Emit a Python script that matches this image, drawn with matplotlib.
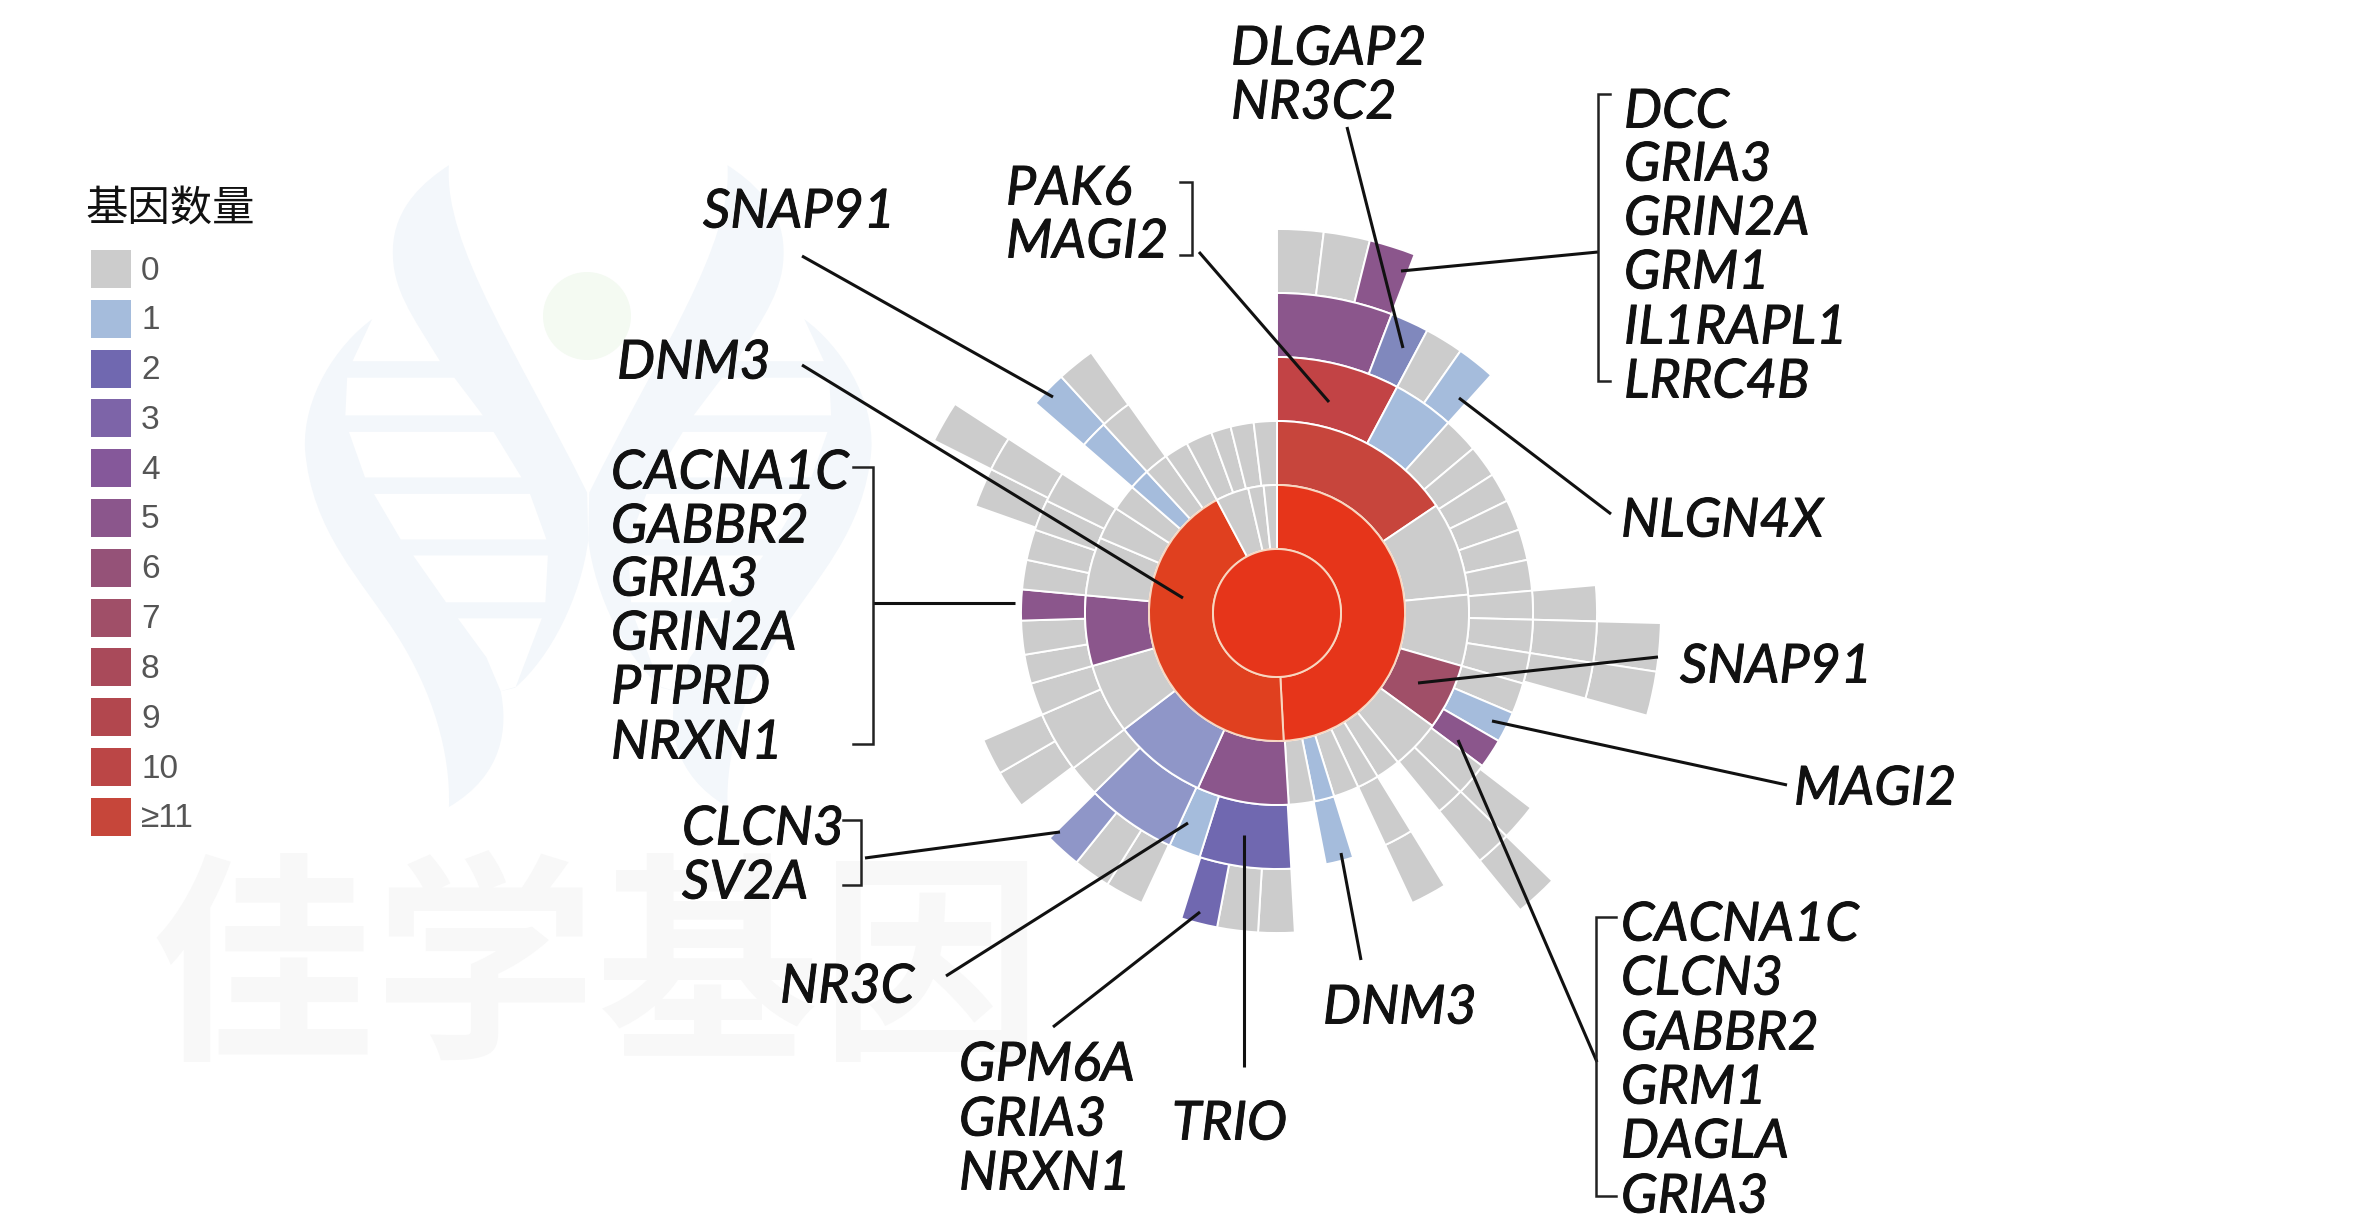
import numpy as np
import matplotlib
matplotlib.use("Agg")
import matplotlib.pyplot as plt
import matplotlib.patheffects as pe
from matplotlib.path import Path
from matplotlib.patches import PathPatch, Circle, Rectangle, Polygon

W, H = 2364, 1226
cx, cy = 1277, 613

# ring radii of the sunburst, px
ring_r = [0, 64, 128, 192, 256, 320, 384]

# cell colours: 0-11 are the legend, the rest are shades only seen in the chart
legend_labels = ['0', '1', '2', '3', '4', '5', '6', '7', '8', '9', '10', '≥11']
legend_colors = ['#cccccc', '#a5bcdc', '#7068b0', '#7d64a8', '#85589a', '#8b568c',
                 '#955278', '#a04f68', '#a94a5a', '#b2474e', '#bb4646', '#c6463a']
R1, R2, P, PD, R3, R4 = 'r1', 'r2', 'p', 'pd', 'r3', 'r4'
shades = {R1: '#e6351a', R2: '#e0401f', P: '#8f96c8', PD: '#8088bd', R3: '#c7453c', R4: '#c24345'}

# angle edges, clockwise from 12 o'clock, and gene count per cell (None = no cell)
ring1_edges = [0, 360]
ring1_counts = [R1]
ring2_edges = [0, 177, 332, 347, 354, 360]
ring2_counts = [R1, R2, 0, 0, 0]
ring3_edges = [0, 56, 84.5, 106, 126, 141, 148.4, 155, 162.7, 168.7, 176.5, 204.3, 232.7,
               254, 275.3, 293, 303, 311, 317.3, 324.7, 332, 340, 346, 353, 360]
ring3_counts = [R3, 0, 0, 7, 0, 0, 0, 0, 1, 0, 5, P,
                0, 5, 0, 0, 0, 1, 0, 0, 0, 0, 0, 0]
ring4_edges = [0, 28, 42, 50, 57.3, 64, 71, 78, 85, 91.5, 99, 106, 113, 120, 126.7, 134.3, 140.7,
               148.4, 155, 162.7, 169, 176.8, 197.6, 204.8, 225.5, 232.7, 246.6, 254, 260.6,
               268.3, 275.3, 282, 289, 296, 303, 311, 317.4, 324.6, 360]
ring4_counts = [R4, 1, 0, 0, 0, 0, 0, 0, 0, 0, 0, 0, 1, 5, 0, 0,
                None, 0, None, 1, None, 2, 1, P, 0, 0, 0, 0,
                0, 5, 0, 0, 0, 0, None, 1, 0, None]
ring5_edges = [0, 21, 28, 35, 42, 85, 91.5, 99, 105.5, 127.5, 134.2, 140.7, 148.4, 155, 176.8,
               183.4, 190.8, 197.4, 205, 212, 218.8, 225.3, 233, 240, 246.6, 289.5, 296.7,
               303, 311, 317.6, 324.5, 360]
ring5_counts = [5, PD, 0, 1, None, 0, 0, 0, None, 0, 0, None, 0, None,
                0, 0, 2, None, 0, 0, P, None, 0, 0, None, 0,
                0, None, 1, 0, None]
ring6_edges = [0, 7, 14, 21, 91.5, 98.8, 105.5, 134.2, 140.7, 296.7, 303, 360]
ring6_counts = [0, 0, 5, None, 0, 0, None, 0, None, 0, None]

rings_edges = [ring1_edges, ring2_edges, ring3_edges, ring4_edges, ring5_edges, ring6_edges]
rings_counts = [ring1_counts, ring2_counts, ring3_counts, ring4_counts, ring5_counts, ring6_counts]

# gene labels: left x, centre y, in px of the reference
gene_labels = [
    ('DLGAP2', 1231, 49), ('NR3C2', 1231, 103),
    ('DCC', 1624, 112), ('GRIA3', 1624, 165), ('GRIN2A', 1624, 219),
    ('GRM1', 1624, 273), ('IL1RAPL1', 1624, 328), ('LRRC4B', 1624, 382),
    ('PAK6', 1006, 189), ('MAGI2', 1006, 242),
    ('SNAP91', 703, 212), ('DNM3', 617, 363),
    ('CACNA1C', 611, 473), ('GABBR2', 611, 527), ('GRIA3', 611, 580),
    ('GRIN2A', 611, 634), ('PTPRD', 611, 688), ('NRXN1', 611, 743),
    ('CLCN3', 682, 829), ('SV2A', 682, 883), ('NR3C', 780, 987),
    ('GPM6A', 959, 1065), ('GRIA3', 959, 1120), ('NRXN1', 959, 1174),
    ('TRIO', 1172, 1124), ('DNM3', 1323, 1008),
    ('CACNA1C', 1621, 925), ('CLCN3', 1621, 979), ('GABBR2', 1621, 1034),
    ('GRM1', 1621, 1088), ('DAGLA', 1621, 1142), ('GRIA3', 1621, 1197),
    ('NLGN4X', 1621, 521), ('SNAP91', 1680, 667), ('MAGI2', 1794, 789),
]

# leader lines and brackets, as x and y lists
leaders = [
    ([802, 1053], [256, 397]), ([802, 1183], [365, 598]),
    ([873, 1015], [603, 603]), ([865, 1060], [858, 832]),
    ([946, 1188], [976, 823]), ([1053, 1200], [1027, 912]),
    ([1244, 1244], [835, 1067]), ([1341, 1361], [853, 960]),
    ([1597, 1458], [1062, 740]), ([1492, 1787], [721, 785]),
    ([1418, 1658], [683, 657]), ([1459, 1611], [398, 514]),
    ([1598, 1401], [252, 271]), ([1347, 1403], [127, 348]),
    ([1199, 1329], [252, 402]),
]
brackets = [
    ([853, 873, 873, 853], [467, 467, 744, 744]),
    ([843, 861, 861, 843], [820, 820, 885, 885]),
    ([1616, 1596, 1596, 1616], [917, 917, 1196, 1196]),
    ([1610, 1598, 1598, 1610], [94, 94, 381, 381]),
    ([1180, 1192, 1192, 1180], [182, 182, 255, 255]),
]

fig = plt.figure(figsize=(W / 100, H / 100), dpi=100, facecolor='white')


def cell_color(k):
    return legend_colors[k] if isinstance(k, int) else shades[k]


# watermark, very pale, behind everything: one helix lobe drawn twice, mirrored
bg = fig.add_axes([0, 0, 1, 1], zorder=0)
bg.set_xlim(0, W)
bg.set_ylim(H, 0)
bg.axis('off')
M, L, C4 = Path.MOVETO, Path.LINETO, Path.CURVE4
lobe_v = [(445, 35), (430, 220), (640, 470), (832, 790), (835, 900),
          (815, 1030), (730, 1170), (630, 1240), (590, 1248),
          (610, 1330), (600, 1440), (445, 1515),
          (450, 1390), (400, 1250), (300, 1120),
          (200, 990), (60, 880), (42, 690),
          (35, 570), (130, 450), (230, 390), (175, 487), (420, 487),
          (340, 380), (285, 320), (288, 230),
          (290, 130), (380, 70), (445, 35)]
lobe_c = [M, C4, C4, C4, L, C4, C4, C4, L, C4, C4, C4, C4, C4, C4, C4, C4, C4,
          C4, C4, C4, L, L, C4, C4, C4, C4, C4, C4]
windows = [
    [(160, 525), (460, 525), (540, 612), (155, 612)],
    [(165, 650), (570, 650), (648, 755), (210, 755)],
    [(235, 793), (672, 793), (718, 898), (310, 898)],
    [(345, 935), (722, 935), (715, 1043), (437, 1043)],
    [(470, 1080), (705, 1080), (632, 1238), (590, 1248), (550, 1170)],
]


def to_px(pts, mirror):
    a = np.array(pts, dtype=float)
    if mirror:
        a[:, 0] = 1670 - a[:, 0]
    return np.c_[290 + a[:, 0] * 560 / 1568, 150 + a[:, 1] * 680 / 1568]


for mirror in (False, True):
    bg.add_patch(PathPatch(Path(to_px(lobe_v, mirror), lobe_c), facecolor='#f3f7fb', lw=0))
    for w in windows:
        bg.add_patch(Polygon(to_px(w, mirror), closed=True, facecolor='white', lw=0))
bg.add_patch(Circle((587, 316), 44, color='#f4faf2', lw=0))
for i, ch in enumerate('佳学基因'):
    bg.text(262 + i * 223, 977, ch, fontsize=160, fontweight='bold', color='#f8f8f8',
            family='Noto Sans CJK SC', ha='center', va='center')

# sunburst on a polar axes, 400 px radius
rmax = 400
ax = fig.add_axes([(cx - rmax) / W, (H - cy - rmax) / H, 2 * rmax / W, 2 * rmax / H],
                  projection='polar', zorder=1)
ax.set_theta_zero_location('N')
ax.set_theta_direction(-1)
ax.set_ylim(0, rmax)
ax.axis('off')

for i in range(5, -1, -1):
    edges = np.deg2rad(rings_edges[i])
    for j, k in enumerate(rings_counts[i]):
        if k is None:
            continue
        ec = '#f8d6c0' if i == 1 and isinstance(k, str) else 'white'
        lw = 0 if i == 0 else 1.4
        ax.bar(edges[j], ring_r[i + 1] - ring_r[i], width=edges[j + 1] - edges[j], bottom=ring_r[i],
               align='edge', color=cell_color(k), edgecolor=ec, linewidth=lw)
# pale circle round the centre disc
ax.plot(np.linspace(0, 2 * np.pi, 200), np.full(200, ring_r[1]), color='#f8d6c0', lw=1.4)

# everything else in reference px
top = fig.add_axes([0, 0, 1, 1], zorder=2)
top.set_xlim(0, W)
top.set_ylim(H, 0)
top.axis('off')
top.patch.set_alpha(0)

for x, y in leaders:
    top.plot(x, y, color='#111111', lw=2.2, solid_capstyle='butt')
for x, y in brackets:
    top.plot(x, y, color='#222222', lw=1.8, solid_joinstyle='miter')
for name, x, y in gene_labels:
    top.text(x, y, name, fontsize=38.7, style='italic', family='Lato', color='#111111',
             ha='left', va='center',
             path_effects=[pe.withStroke(linewidth=0.7, foreground='#111111')])

# legend
top.text(85, 209, '基因数量', fontsize=30.5, family='Noto Sans CJK SC', color='#111111',
         ha='left', va='center')
for i, (lab, col) in enumerate(zip(legend_labels, legend_colors)):
    top.add_patch(Rectangle((91, 250 + i * 49.8), 40, 38, color=col, lw=0))
    top.text(141, 271 + i * 49.8, lab, fontsize=24, family='Liberation Sans', color='#555555',
             ha='left', va='center')

fig.savefig('out.png', dpi=100)
